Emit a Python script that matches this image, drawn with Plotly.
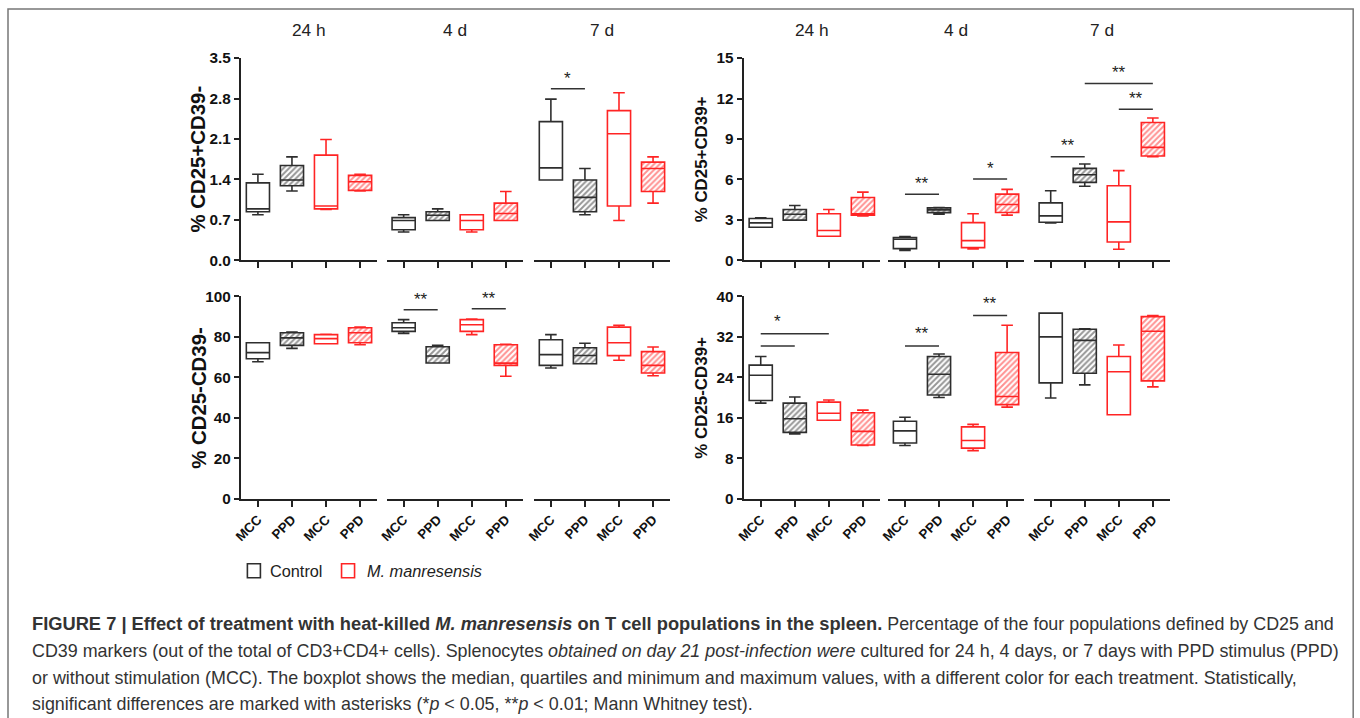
import plotly.graph_objects as go

# ---------------- data ----------------
groups = ["24 h", "4 d", "7 d"]
tick_labels = ["MCC", "PPD", "MCC", "PPD"]
# box order in each group: Control MCC, Control PPD, M. manresensis MCC, M. manresensis PPD

# Panel A: % CD25+CD39-
a_min = [0.79, 1.20, 0.88, 1.20,  0.49, 0.69, 0.49, 0.69,  1.39, 0.79, 0.69, 0.99]
a_q1  = [0.84, 1.29, 0.89, 1.21,  0.53, 0.69, 0.53, 0.69,  1.39, 0.84, 0.94, 1.19]
a_med = [0.89, 1.39, 0.94, 1.36,  0.69, 0.78, 0.69, 0.81,  1.60, 1.09, 2.19, 1.59]
a_q3  = [1.34, 1.64, 1.82, 1.47,  0.74, 0.84, 0.79, 0.99,  2.40, 1.39, 2.59, 1.70]
a_max = [1.49, 1.79, 2.09, 1.49,  0.79, 0.89, 0.79, 1.19,  2.79, 1.59, 2.90, 1.79]

# Panel B: % CD25+CD39+
b_min = [2.45, 2.98, 1.79, 3.30,  0.74, 3.42, 0.84, 3.35,  2.78, 5.50, 0.82, 7.69]
b_q1  = [2.45, 2.98, 1.79, 3.35,  0.87, 3.54, 0.94, 3.55,  2.83, 5.78, 1.36, 7.74]
b_med = [2.78, 3.42, 2.21, 3.45,  1.56, 3.74, 1.46, 4.14,  3.30, 6.35, 2.85, 8.38]
b_q3  = [3.10, 3.77, 3.45, 4.66,  1.69, 3.89, 2.80, 4.91,  4.26, 6.82, 5.53, 10.22]
b_max = [3.15, 4.07, 3.77, 5.06,  1.76, 3.92, 3.45, 5.26,  5.16, 7.14, 6.65, 10.56]

# Panel C: % CD25-CD39-
c_min = [67.7, 74.3, 76.6, 76.1,  81.7, 67.1, 81.1, 60.5,  64.6, 66.7, 68.4, 60.8]
c_q1  = [69.2, 75.8, 76.6, 77.1,  82.7, 67.1, 82.7, 65.9,  65.9, 66.7, 70.7, 62.1]
c_med = [72.2, 79.5, 79.1, 82.0,  84.5, 70.5, 86.0, 67.0,  71.2, 70.8, 77.1, 65.9]
c_q3  = [77.1, 82.0, 81.1, 84.5,  87.0, 75.1, 88.5, 76.1,  78.6, 74.6, 84.8, 72.7]
c_max = [77.1, 82.4, 81.2, 84.8,  88.5, 75.8, 88.8, 76.3,  81.1, 76.8, 85.7, 75.0]

# Panel D: % CD25-CD39+
d_min = [18.9, 12.8, 15.5, 10.5,  10.5, 20.0, 9.5, 18.1,  19.9, 22.5, 16.6, 22.1]
d_q1  = [19.4, 13.1, 15.5, 10.6,  11.0, 20.5, 10.0, 18.6,  22.9, 24.8, 16.6, 23.3]
d_med = [24.4, 15.8, 16.9, 13.3,  13.4, 24.6, 11.5, 20.2,  32.0, 31.3, 25.1, 33.1]
d_q3  = [26.4, 18.9, 19.1, 17.0,  15.3, 28.1, 14.2, 28.9,  36.7, 33.5, 28.1, 36.0]
d_max = [28.1, 20.1, 19.5, 17.5,  16.1, 28.6, 14.7, 34.3,  36.7, 33.6, 30.4, 36.2]

panel_titles = ["% CD25+CD39-", "% CD25+CD39+", "% CD25-CD39-", "% CD25-CD39+"]
panel_ymax = [3.5, 15, 100, 40]
panel_ticks = [["0.0", "0.7", "1.4", "2.1", "2.8", "3.5"],
               ["0", "3", "6", "9", "12", "15"],
               ["0", "20", "40", "60", "80", "100"],
               ["0", "8", "16", "24", "32", "40"]]

# significance: panel, group, from box, to box, line y, star y, text
sig_panel = [0, 1, 1, 1, 1, 1, 2, 2, 3, 3, 3, 3]
sig_group = [2, 1, 1, 2, 2, 2, 1, 1, 0, 0, 1, 1]
sig_from  = [0, 0, 2, 0, 2, 1, 0, 2, 0, 0, 0, 2]
sig_to    = [1, 1, 3, 1, 3, 3, 1, 3, 1, 2, 1, 3]
sig_liney = [2.97, 4.91, 6.03, 7.69, 11.21, 13.12, 93.4, 93.9, 30.2, 32.6, 30.2, 36.2]
sig_texty = [3.14, 5.70, 6.80, 8.50, 12.00, 13.90, 98.6, 99.0, None, 35.1, 32.7, 38.5]
sig_text  = ["*", "**", "*", "**", "**", "**", "**", "**", "", "*", "**", "**"]

legend_names = ["Control", "<i>M. manresensis</i>"]

# ---------------- styling / layout ----------------
W, H = 1360, 718
CTRL = "#2e2e2e"
RED = "#ff2424"
box_colors = [CTRL, CTRL, RED, RED]
hatched = [False, True, False, True]
FONT = "Liberation Sans, Arial, Helvetica, sans-serif"


# target screen pixel -> figure pixel (compensates page offset/scale of viewer)
def fx(t):
    return (t - 10) / 0.9925


def fy(t):
    return (t - 9) / 0.975


def px(t):
    return fx(t) / W


def py(t):
    return 1 - fy(t) / H


seg_centers = [[310.5, 456.0, 603.0], [812.5, 956.5, 1102.0]]
half_w = 68
row_y = [(58, 260), (296, 498)]

panels = [
    (a_min, a_q1, a_med, a_q3, a_max),
    (b_min, b_q1, b_med, b_q3, b_max),
    (c_min, c_q1, c_med, c_q3, c_max),
    (d_min, d_q1, d_med, d_q3, d_max),
]

fig = go.Figure()
layout = dict(
    width=W, height=H, margin=dict(l=0, r=0, t=0, b=0),
    paper_bgcolor="white", plot_bgcolor="white",
    showlegend=False, boxmode="overlay", barmode="overlay",
    font=dict(family=FONT, color="#222"),
)
annotations = []
shapes = []


def ax_index(p, s):
    return p * 3 + s + 1


for p in range(4):
    row, col = divmod(p, 2)
    mins, q1s, meds, q3s, maxs = panels[p]
    ymax = panel_ymax[p]
    tvals = [ymax * i / 5 for i in range(6)]
    y0px, y1px = row_y[row]
    ydom = [py(y1px), py(y0px)]
    for s in range(3):
        k = ax_index(p, s)
        xn = "x" if k == 1 else f"x{k}"
        yn = "y" if k == 1 else f"y{k}"
        xl = "xaxis" if k == 1 else f"xaxis{k}"
        yl = "yaxis" if k == 1 else f"yaxis{k}"
        cx = seg_centers[col][s]
        layout[xl] = dict(
            domain=[px(cx - half_w), px(cx + half_w)], anchor=yn,
            range=[-0.5, 3.5], tickvals=[0, 1, 2, 3], ticktext=tick_labels,
            showticklabels=(row == 1), tickangle=-45,
            tickfont=dict(family=FONT, size=13.3, color="#111", weight="bold"),
            ticks="outside", ticklen=6, tickwidth=2, tickcolor="#222",
            showline=True, linewidth=2, linecolor="#222",
            showgrid=False, zeroline=False, fixedrange=True,
        )
        layout[yl] = dict(
            domain=ydom, anchor=xn, range=[0, ymax],
            tickvals=tvals, ticktext=panel_ticks[p],
            tickfont=dict(family=FONT, size=15.3, color="#111", weight="bold"),
            ticks="outside", ticklen=5, tickwidth=2, tickcolor="#222",
            showline=(s == 0), linewidth=2, linecolor="#222",
            showticklabels=(s == 0), showgrid=False, zeroline=False,
            fixedrange=True,
        )
        if s != 0:
            layout[yl]["ticks"] = ""
        # boxes of this group
        for b in range(4):
            i = s * 4 + b
            color = box_colors[b]
            if hatched[b]:
                fig.add_trace(go.Bar(
                    x=[b], y=[q3s[i] - q1s[i]], base=[q1s[i]], width=0.68,
                    marker=dict(color="white", line=dict(width=0),
                                pattern=dict(shape="/", fgcolor=color,
                                             bgcolor="white", size=4,
                                             solidity=0.5)),
                    xaxis=xn, yaxis=yn, hoverinfo="skip",
                ))
            fig.add_trace(go.Box(
                x=[b], q1=[q1s[i]], median=[meds[i]], q3=[q3s[i]],
                lowerfence=[mins[i]], upperfence=[maxs[i]],
                width=0.68, whiskerwidth=0.5,
                line=dict(color=color, width=1.6),
                fillcolor="rgba(0,0,0,0)", boxpoints=False,
                xaxis=xn, yaxis=yn,
            ))
    # y axis title
    tx = 200 if col == 0 else 702
    annotations.append(dict(
        x=px(tx), y=(ydom[0] + ydom[1]) / 2, xref="paper", yref="paper",
        text=f"<b>{panel_titles[p]}</b>", showarrow=False, textangle=-90,
        font=dict(family=FONT, size=20.4 if col == 0 else 16.9, color="#111"),
        xanchor="center", yanchor="middle",
    ))

# group titles
for col in range(2):
    for s in range(3):
        annotations.append(dict(
            x=px(seg_centers[col][s]), y=py(30), xref="paper", yref="paper",
            text=groups[s], showarrow=False,
            font=dict(family=FONT, size=17.3, color="#222"),
            xanchor="center", yanchor="middle",
        ))

# significance bars
for j in range(len(sig_text)):
    k = ax_index(sig_panel[j], sig_group[j])
    xn = "x" if k == 1 else f"x{k}"
    yn = "y" if k == 1 else f"y{k}"
    shapes.append(dict(type="line", xref=xn, yref=yn,
                       x0=sig_from[j], x1=sig_to[j],
                       y0=sig_liney[j], y1=sig_liney[j],
                       line=dict(color="#333", width=1.5)))
    if sig_text[j]:
        xc = (sig_from[j] + sig_to[j]) / 2
        if sig_panel[j] == 3 and sig_group[j] == 0:
            xc = 0.5
        annotations.append(dict(
            x=xc, y=sig_texty[j], xref=xn, yref=yn, text=sig_text[j],
            showarrow=False, font=dict(family=FONT, size=17, color="#222"),
            xanchor="center", yanchor="middle",
        ))

# legend
leg_sq_x = [249, 343]
leg_txt_x = [270, 366]
leg_col = [CTRL, RED]
for i in range(2):
    shapes.append(dict(type="rect", xref="paper", yref="paper",
                       x0=px(leg_sq_x[i]), x1=px(leg_sq_x[i] + 13),
                       y0=py(577), y1=py(563),
                       line=dict(color=leg_col[i], width=1.6),
                       fillcolor="white"))
    annotations.append(dict(
        x=px(leg_txt_x[i]), y=py(570), xref="paper", yref="paper",
        text=legend_names[i], showarrow=False,
        font=dict(family=FONT, size=16.3, color="#222"),
        xanchor="left", yanchor="middle",
    ))

# frame
shapes.append(dict(type="rect", xref="paper", yref="paper",
                   x0=0, x1=px(1353), y0=-0.05, y1=1,
                   line=dict(color="#777", width=1.5), fillcolor="rgba(0,0,0,0)",
                   layer="below"))

# caption
caption_lines = [
    "<b><span style=\"font-size:18.3px\">FIGURE 7 | Effect of treatment with heat-killed <i>M. manresensis</i> "
    "on T cell populations in the spleen.</span></b> "
    "Percentage of the four populations defined by CD25 and",
    "CD39 markers (out of the total of CD3+CD4+ cells). Splenocytes <i>obtained on day 21 post-infection were</i> "
    "cultured for 24 h, 4 days, or 7 days with PPD stimulus (PPD)",
    "or without stimulation (MCC). The boxplot shows the median, quartiles and minimum and maximum values, "
    "with a different color for each treatment. Statistically,",
    "significant differences are marked with asterisks (*<i>p</i> &lt; 0.05, **<i>p</i> &lt; 0.01; Mann Whitney test).",
]
cap_y = [623, 650, 677, 703]
for line, yy in zip(caption_lines, cap_y):
    annotations.append(dict(
        x=px(32), y=py(yy), xref="paper", yref="paper", text=line,
        showarrow=False, font=dict(family=FONT, size=17.9, color="#333"),
        xanchor="left", yanchor="middle", align="left",
    ))

layout["annotations"] = annotations
layout["shapes"] = shapes
fig.update_layout(**layout)
fig.write_html(
    "out.html",
    config={"displayModeBar": False},
    post_script=(
        "var gd=document.getElementById('{plot_id}');"
        "var de=document.documentElement, bd=document.body;"
        "de.style.margin='0px';de.style.padding='0px';de.style.overflow='hidden';"
        "bd.style.margin='0px';bd.style.padding='0px';bd.style.overflow='hidden';"
        "gd.style.position='fixed';gd.style.left='0px';gd.style.top='0px';"
    ),
)
